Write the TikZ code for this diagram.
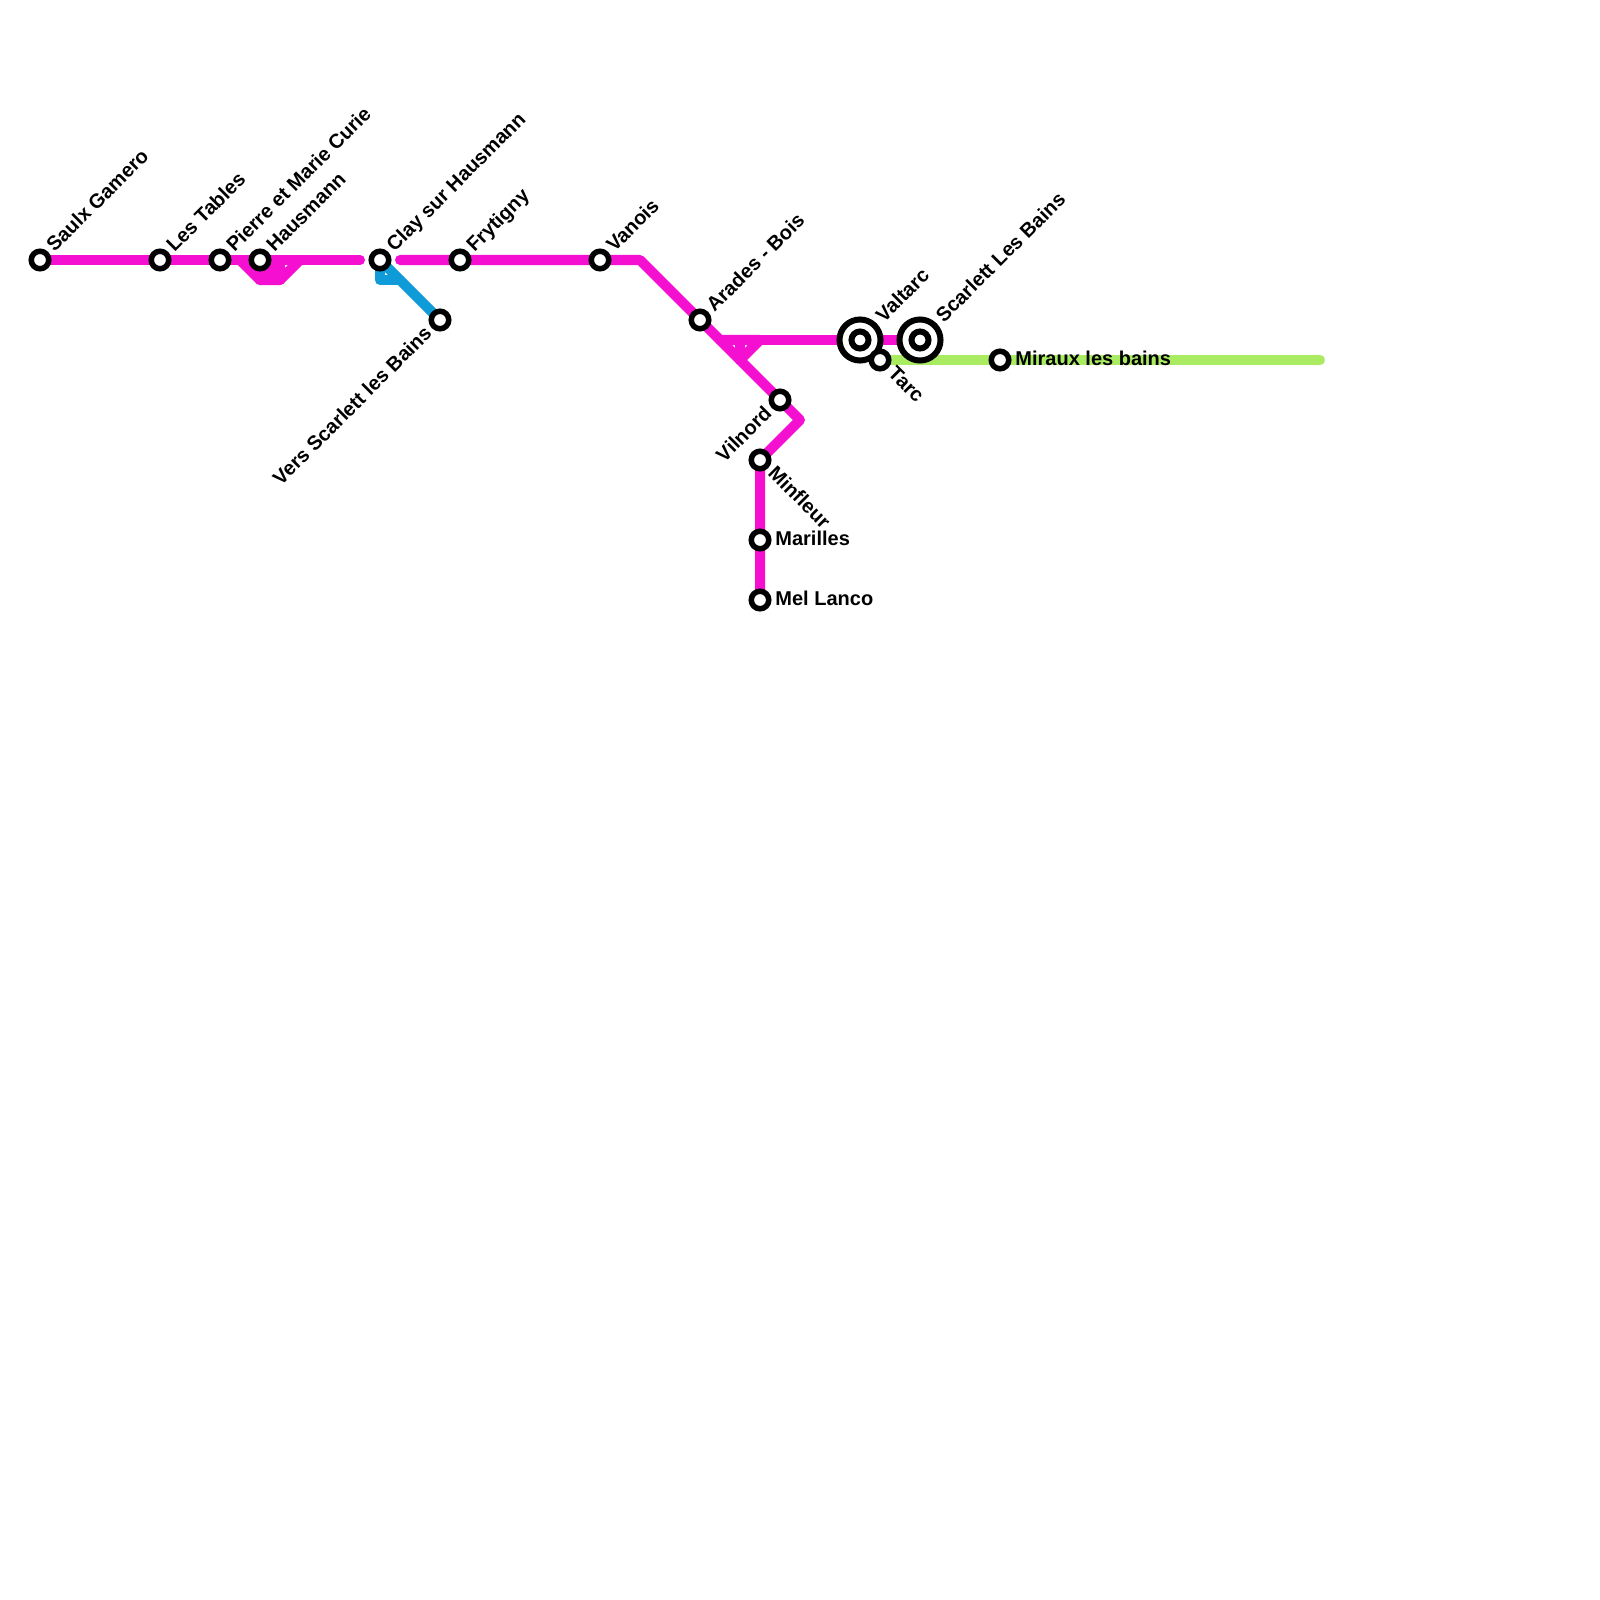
\documentclass[tikz,border=0pt]{standalone}
\usepackage{fontspec}
\setmainfont{Liberation Sans}
\usetikzlibrary{backgrounds}
\definecolor{magentaline}{HTML}{F50FD0}
\definecolor{blueline}{HTML}{0F9BD7}
\definecolor{greenline}{HTML}{A9EC62}
\tikzset{
  route/.style={line width=0.1cm,line cap=round,line join=round},
  magroute/.style={route,draw=magentaline},
  blueroute/.style={route,draw=blueline},
  greenroute/.style={route,draw=greenline},
  stn/.style={circle,draw=black,fill=white,line width=0.055cm,minimum size=0.175cm,inner sep=0pt,outer sep=0pt},
  hub/.style={circle,draw=black,fill=white,line width=0.06cm,minimum size=0.41cm,inner sep=0pt,outer sep=0pt},
  hubcore/.style={circle,draw=black,fill=white,line width=0.06cm,minimum size=0.17cm,inner sep=0pt,outer sep=0pt},
  lab/.style={font=\bfseries\fontsize{5.69}{6}\selectfont,text=black,inner ysep=0pt,inner xsep=0.147cm,text height=4.2pt,text depth=1.2pt},
  ne/.style={lab,rotate=45,anchor=west},
  sw/.style={lab,rotate=45,anchor=east},
  se/.style={lab,rotate=-45,anchor=west},
  ee/.style={lab,anchor=west}
}
\begin{document}
\begin{tikzpicture}[x=0.01cm,y=-0.01cm]
\useasboundingbox (0,0) rectangle (1600,1600);
% corner points
\coordinate (m1) at (360,260);
\coordinate (m2) at (400,260);
\coordinate (p0) at (240,260);
\coordinate (p1) at (260,280);
\coordinate (p2) at (280,280);
\coordinate (p3) at (300,260);
\coordinate (p4) at (280,260);
\coordinate (p5) at (260,260);
\coordinate (c1) at (640,260);
\coordinate (j1) at (720,340);
\coordinate (j2) at (760,340);
\coordinate (j3) at (740,360);
\coordinate (j4) at (740,340);
\coordinate (c2) at (800,420);
\coordinate (b1) at (380,280);
\coordinate (b2) at (400,280);
\coordinate (g1) at (1320,360);
% stations
\node[stn] (saulx) at (40,260) {};
\node[stn] (tables) at (160,260) {};
\node[stn] (pierre) at (220,260) {};
\node[stn] (haus) at (260,260) {};
\node[stn] (clay) at (380,260) {};
\node[stn] (fry) at (460,260) {};
\node[stn] (vanois) at (600,260) {};
\node[stn] (arades) at (700,320) {};
\node[stn] (vers) at (440,320) {};
\node[hub] (valtarc) at (860,340) {};
\node[hubcore] (valtarcc) at (860,340) {};
\node[hub] (scarlett) at (920,340) {};
\node[hubcore] (scarlettc) at (920,340) {};
\node[stn] (tarc) at (880,360) {};
\node[stn] (miraux) at (1000,360) {};
\node[stn] (vil) at (780,400) {};
\node[stn] (minf) at (760,460) {};
\node[stn] (mar) at (760,540) {};
\node[stn] (mel) at (760,600) {};
% connectors
\begin{scope}[on background layer]
\draw[greenroute] (tarc.center) -- (miraux.center) -- (g1);
\draw[blueroute] (clay.center) -- (vers.center);
\draw[blueroute] (clay.center) -- (b1) -- (b2);
\draw[magroute] (saulx.center) -- (tables.center) -- (pierre.center) -- (haus.center) -- (m1);
\draw[magroute] (p0) -- (p1) -- (p2) -- (p3);
\draw[magroute] (p5) -- (p1);
\draw[magroute] (p5) -- (p2);
\draw[magroute] (p4) -- (p2);
\draw[magroute] (p4) -- (p1);
\draw[magroute] (m2) -- (fry.center) -- (vanois.center) -- (c1) -- (arades.center) -- (j1) -- (vil.center) -- (c2) -- (minf.center) -- (mar.center) -- (mel.center);
\draw[magroute] (j1) -- (j2) -- (j3);
\draw[magroute] (j4) -- (j3);
\draw[magroute] (j2) -- (valtarc.center) -- (scarlett.center);
\end{scope}
% labels
\node[ne] (lsaulx) at (saulx) {Saulx Gamero};
\node[ne] (ltables) at (tables) {Les Tables};
\node[ne] (lpierre) at (pierre) {Pierre et Marie Curie};
\node[ne] (lhaus) at (haus) {Hausmann};
\node[ne] (lclay) at (clay) {Clay sur Hausmann};
\node[ne] (lfry) at (fry) {Frytigny};
\node[ne] (lvanois) at (vanois) {Vanois};
\node[ne] (larades) at (arades) {Arades - Bois};
\node[sw] (lvers) at (vers) {Vers Scarlett les Bains};
\node[ne,inner xsep=0.28cm] (lvaltarc) at (valtarc) {Valtarc};
\node[ne,inner xsep=0.28cm] (lscarlett) at (scarlett) {Scarlett Les Bains};
\node[se] (ltarc) at (tarc) {Tarc};
\node[ee] (lmiraux) at (miraux) {Miraux les bains};
\node[sw] (lvil) at (vil) {Vilnord};
\node[se] (lminf) at (minf) {Minfleur};
\node[ee] (lmar) at (mar) {Marilles};
\node[ee] (lmel) at (mel) {Mel Lanco};
\end{tikzpicture}
\end{document}
